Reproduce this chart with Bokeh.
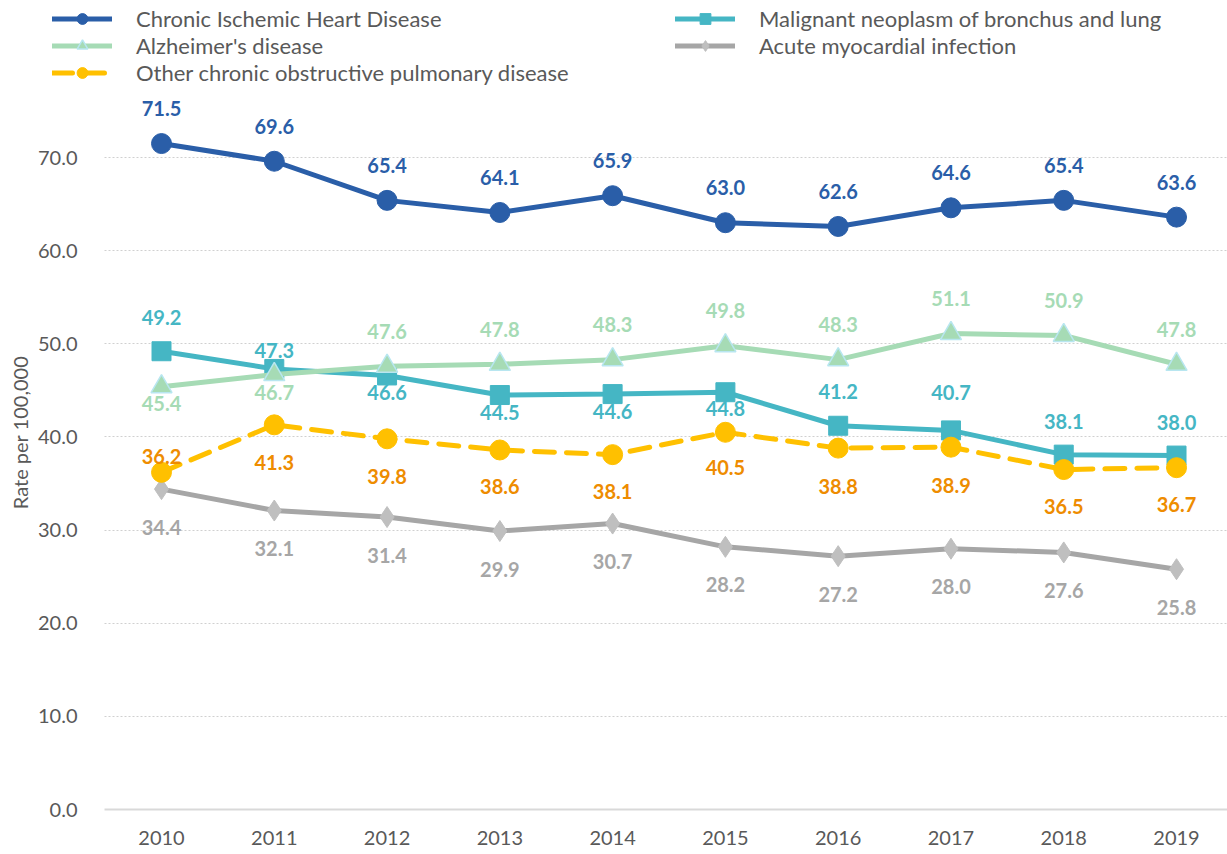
from bokeh.plotting import figure
from bokeh.models import Range1d, FixedTicker, PrintfTickFormatter, Legend, LegendItem, ColumnDataSource
from bokeh.core.properties import value
from bokeh.embed import file_html
from bokeh.resources import INLINE

years = [2010, 2011, 2012, 2013, 2014, 2015, 2016, 2017, 2018, 2019]
year_labels = ["2010", "2011", "2012", "2013", "2014", "2015", "2016", "2017", "2018", "2019"]

chronic_ihd = [71.5, 69.6, 65.4, 64.1, 65.9, 63.0, 62.6, 64.6, 65.4, 63.6]
lung_cancer = [49.2, 47.3, 46.6, 44.5, 44.6, 44.8, 41.2, 40.7, 38.1, 38.0]
alzheimers = [45.4, 46.7, 47.6, 47.8, 48.3, 49.8, 48.3, 51.1, 50.9, 47.8]
acute_mi = [34.4, 32.1, 31.4, 29.9, 30.7, 28.2, 27.2, 28.0, 27.6, 25.8]
copd = [36.2, 41.3, 39.8, 38.6, 38.1, 40.5, 38.8, 38.9, 36.5, 36.7]

y_ticks = [0, 10, 20, 30, 40, 50, 60, 70]

# label placement offsets (screen px, + is downward)
off_ihd = [-35] * 10
off_lung = [-34, -18, 17, 17, 17, 16, -34, -38, -33, -33]
off_alz = [17, 18, -35, -35, -35, -35, -35, -35, -35, -35]
off_ami = [38] * 10
off_copd = [-16, 38, 38, 37, 37, 35, 38, 38, 37, 37]

FONT = "Lato"
TXT = "#595959"

X_START, X_AXIS, X_END = 2008.5724, 2009.4946, 2019.4520
Y_START, Y_END = -4.8314, 86.858

p = figure(width=1227, height=854, output_backend="svg", toolbar_location=None,
           x_range=Range1d(X_START, X_END), y_range=Range1d(Y_START, Y_END),
           min_border_left=0, min_border_right=0, min_border_top=0, min_border_bottom=0)
p.outline_line_color = None

p.xgrid.visible = False
p.ygrid.ticker = FixedTicker(ticks=y_ticks[1:])
p.ygrid.grid_line_color = "#D0D0D0"
p.ygrid.grid_line_dash = "2 2"
p.ygrid.grid_line_width = 1
if "cross_bounds" in p.ygrid[0].properties():
    p.ygrid.cross_bounds = (X_AXIS, X_END)

p.xaxis.fixed_location = 0
p.xaxis.ticker = FixedTicker(ticks=years)
p.xaxis.bounds = (X_AXIS, X_END)
p.xaxis.major_label_overrides = {y: s for y, s in zip(years, year_labels)}
p.xaxis.axis_line_color = "#D9D9D9"
p.xaxis.axis_line_width = 2
p.xaxis.major_tick_line_color = None
p.xaxis.minor_tick_line_color = None
p.xaxis.major_label_text_font = FONT
p.xaxis.major_label_text_font_size = "20px"
p.xaxis.major_label_text_color = TXT
p.xaxis.major_label_standoff = 15

p.yaxis.fixed_location = X_AXIS
p.yaxis.bounds = (0, 81)
p.yaxis.ticker = FixedTicker(ticks=y_ticks)
p.yaxis.formatter = PrintfTickFormatter(format="%.1f")
p.yaxis.axis_line_color = None
p.yaxis.major_tick_line_color = None
p.yaxis.minor_tick_line_color = None
p.yaxis.major_label_text_font = FONT
p.yaxis.major_label_text_font_size = "20px"
p.yaxis.major_label_text_color = TXT
p.yaxis.major_label_standoff = 21
p.yaxis.axis_label = "Rate per 100,000"
p.yaxis.axis_label_text_font = FONT
p.yaxis.axis_label_text_font_size = "20px"
p.yaxis.axis_label_text_font_style = "normal"
p.yaxis.axis_label_text_color = TXT
p.yaxis.axis_label_standoff = 3

series = [
    ("Chronic Ischemic Heart Disease", chronic_ihd, off_ihd, "#2A5EA8", "#2A5EA8", "circle", 20, None, "#2A5EA8", "solid"),
    ("Malignant neoplasm of bronchus and lung", lung_cancer, off_lung, "#45B6C4", "#45B6C4", "square", 19, None, "#45B6C4", "solid"),
    ("Alzheimer's disease", alzheimers, off_alz, "#A6DBB5", "#A6DBB5", "triangle", 21, "#B8E6F0", "#A6DBB5", "solid"),
    ("Acute myocardial infection", acute_mi, off_ami, "#A6A6A6", "#BFBFBF", "diamond", 21, None, "#A6A6A6", "solid"),
    ("Other chronic obstructive pulmonary disease", copd, off_copd, "#FFC000", "#FFC000", "circle", 20, None, "#EE8C00", "20 12"),
]

items = []
for name, vals, offs, lc, mc, marker, size, outline, labc, dash in series:
    src = ColumnDataSource(dict(x=years, y=vals, off=offs, lab=[f"{v:.1f}" for v in vals]))
    ln = p.line("x", "y", source=src, line_color=lc, line_width=5, line_dash=dash, line_cap="round")
    sc = p.scatter("x", "y", source=src, marker=marker, size=size, fill_color=mc,
                   line_color=outline if outline else mc, line_width=1.5 if outline else 1)
    items.append((name, [ln, sc], src, labc))

for name, rends, src, labc in items:
    p.text("x", "y", text="lab", source=src, y_offset="off", text_align="center",
           text_baseline="middle", text_font=value(FONT), text_font_style="bold",
           text_font_size="20px", text_color=labc)

def make_legend(its, loc):
    return Legend(items=[LegendItem(label=n, renderers=r) for n, r, _, _ in its], location=loc,
                  orientation="vertical", glyph_width=60, glyph_height=27, label_height=20,
                  spacing=0, padding=0, margin=0, label_standoff=24,
                  label_text_font=FONT, label_text_font_size="22px", label_text_color=TXT,
                  border_line_color=None, background_fill_alpha=0)

p.add_layout(make_legend([items[0], items[2], items[4]], (52, 768)), "center")
p.add_layout(make_legend([items[1], items[3]], (675, 795)), "center")

open("out.html", "w").write(file_html(p, INLINE))
